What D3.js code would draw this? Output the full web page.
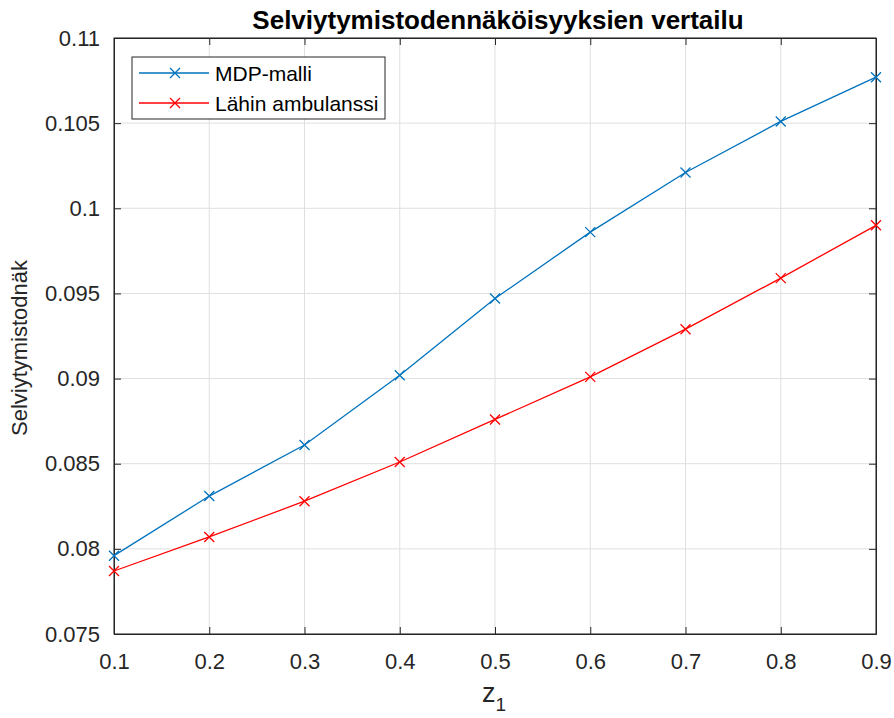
<!DOCTYPE html>
<html><head><meta charset="utf-8">
<script src="https://cdn.jsdelivr.net/npm/d3@7"></script>
<style>body{margin:0;background:#fff}svg{font-family:"Liberation Sans",Arial,Helvetica,sans-serif}</style>
</head><body><svg id="c" width="894" height="718"></svg>
<script>
const xValues = [0.1,0.2,0.3,0.4,0.5,0.6,0.7,0.8,0.9];
const mdpValues = [0.0796,0.0831,0.0861,0.0902,0.0947,0.0986,0.1021,0.1051,0.1077];
const nearestValues = [0.0787,0.0807,0.0828,0.0851,0.0876,0.0901,0.0929,0.0959,0.0990];
const seriesNames = ["MDP-malli","Lähin ambulanssi"];
const xTicks = [0.1,0.2,0.3,0.4,0.5,0.6,0.7,0.8,0.9];
const yTicks = [0.075,0.08,0.085,0.09,0.095,0.1,0.105,0.11];

const L=114,R=876,T=38,B=634;
const svg=d3.select("#c");
const x=d3.scaleLinear().domain([0.1,0.9]).range([L,R]);
const y=d3.scaleLinear().domain([0.075,0.11]).range([B,T]);
const g=svg.append("g");
// grid
g.selectAll(".gx").data(xTicks).join("line").attr("x1",d=>x(d)).attr("x2",d=>x(d)).attr("y1",T).attr("y2",B).attr("stroke","#dfdfdf").attr("stroke-width",1);
g.selectAll(".gy").data(yTicks).join("line").attr("y1",d=>y(d)).attr("y2",d=>y(d)).attr("x1",L).attr("x2",R).attr("stroke","#dfdfdf").attr("stroke-width",1);
// axes
const fmt=d=>String(+d.toFixed(3));
const xa=d3.axisBottom(x).tickValues(xTicks).tickFormat(fmt).tickSizeInner(-7).tickSizeOuter(0).tickPadding(19);
const xt=d3.axisTop(x).tickValues(xTicks).tickFormat("").tickSizeInner(-7).tickSizeOuter(0);
const ya=d3.axisLeft(y).tickValues(yTicks).tickFormat(fmt).tickSizeInner(-7).tickSizeOuter(0).tickPadding(14);
const yr=d3.axisRight(y).tickValues(yTicks).tickFormat("").tickSizeInner(-7).tickSizeOuter(0);
function style(s){s.selectAll("path,line").attr("stroke","#262626");s.selectAll("text").attr("fill","#262626").attr("font-size",22).attr("font-family","Liberation Sans,Arial,sans-serif");}
svg.append("g").attr("transform",`translate(0,${B})`).call(xa).call(style);
svg.append("g").attr("transform",`translate(0,${T})`).call(xt).call(style);
svg.append("g").attr("transform",`translate(${L},0)`).call(ya).call(style);
svg.append("g").attr("transform",`translate(${R},0)`).call(yr).call(style);
svg.append("rect").attr("x",L).attr("y",T).attr("width",R-L).attr("height",B-T).attr("fill","none").attr("stroke","#262626").attr("stroke-width",1);

const colors=["#0072BD","#FF0000"];
const series=[mdpValues,nearestValues];
const line=d3.line().x((d,i)=>x(xValues[i])).y(d=>y(d));
function cross(sel,cx,cy,c){const s=5;sel.append("path").attr("d",`M${cx-s},${cy-s}L${cx+s},${cy+s}M${cx-s},${cy+s}L${cx+s},${cy-s}`).attr("stroke",c).attr("stroke-width",1.3).attr("fill","none");}
series.forEach((vals,k)=>{
  svg.append("path").datum(vals).attr("d",line).attr("fill","none").attr("stroke",colors[k]).attr("stroke-width",1.3);
  vals.forEach((v,i)=>cross(svg,x(xValues[i]),y(v),colors[k]));
});
// legend
const lg=svg.append("g");
lg.append("rect").attr("x",132).attr("y",57).attr("width",253).attr("height",62).attr("fill","#fff").attr("stroke","#262626").attr("stroke-width",1);
seriesNames.forEach((n,k)=>{
  const yy=73+k*30;
  lg.append("line").attr("x1",139).attr("x2",209).attr("y1",yy).attr("y2",yy).attr("stroke",colors[k]).attr("stroke-width",1.3);
  cross(lg,175,yy,colors[k]);
  lg.append("text").attr("x",215).attr("y",yy+8).attr("font-size",21).attr("fill","#000").text(n);
});
// title
svg.append("text").attr("x",498).attr("y",29).attr("text-anchor","middle").attr("font-size",26).attr("font-weight","bold").attr("fill","#000").text("Selviytymistodennäköisyyksien vertailu");
// y label
svg.append("text").attr("transform","translate(27,348) rotate(-90)").attr("text-anchor","middle").attr("font-size",22).attr("fill","#262626").text("Selviytymistodnäk");
// x label
const xl=svg.append("text").attr("x",494).attr("y",702).attr("text-anchor","middle").attr("font-size",27).attr("fill","#262626");
xl.append("tspan").text("z");
xl.append("tspan").attr("font-size",19).attr("dy",9).text("1");
</script></body></html>
